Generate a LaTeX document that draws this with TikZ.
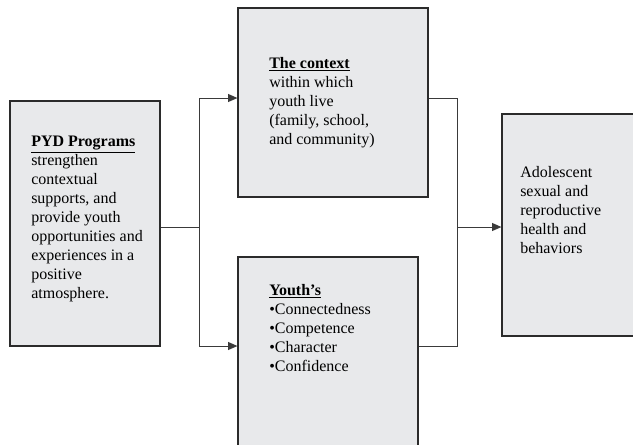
\documentclass[tikz,border=0pt]{standalone}
\usepackage{fontspec}
\setmainfont{Liberation Serif}
\usetikzlibrary{arrows.meta,positioning,calc}

\definecolor{boxfill}{HTML}{E8E9EB}
\definecolor{boxline}{HTML}{2B2B2B}
\definecolor{wire}{HTML}{3A3A3A}

\begin{document}
\begin{tikzpicture}[x=0.75pt,y=-0.75pt,
  every node/.style={font=\fontsize{12}{14.25}\selectfont},
  blk/.style={draw=boxline,fill=boxfill,line width=0.9pt,inner sep=0pt},
  txt/.style={anchor=north west,align=left,inner sep=0pt},
  ar/.style={-{Triangle[length=7pt,width=6pt]},draw=wire,line width=0.7pt},
  ln/.style={draw=wire,line width=0.7pt}]
\useasboundingbox (0,0) rectangle (633,444);
\clip (0,0) rectangle (633,444);
% boxes
\node[blk,minimum width=150*0.75pt,minimum height=245*0.75pt] (pyd) at (85,223.5) {};
\node[blk,minimum width=190*0.75pt,minimum height=189*0.75pt] (ctx) at (333,102.5) {};
\node[blk,minimum width=180*0.75pt,minimum height=213*0.75pt] (yth) at (328,363.5) {};
\node[blk,minimum width=160*0.75pt,minimum height=222*0.75pt] (out) at (582,225) {};
% texts
\node[txt] (pydtxt) at (31,136) {\underline{\textbf{PYD Programs}}\\strengthen\\contextual\\supports, and\\provide youth\\opportunities and\\experiences in a\\positive\\atmosphere.};
\node[txt] (ctxtxt) at (269,57) {\underline{\textbf{The context}}\\within which\\youth live\\(family, school,\\and community)};
\node[txt] (ythtxt) at (269,284) {\underline{\textbf{Youth’s}}\\•Connectedness\\•Competence\\•Character\\•Confidence};
\node[txt] (outtxt) at (520,166) {Adolescent\\sexual and\\reproductive\\health and\\behaviors};
% connectors
\coordinate (split) at (199,227);
\coordinate (merge) at (457,227);
\draw[ln] (pyd.east |- split) -- (split);
\draw[ar] (split) |- (ctx.west |- 0,98);
\draw[ar] (split) |- (yth.west |- 0,346);
\draw[ln] (ctx.east |- 0,98) -| (merge);
\draw[ln] (yth.east |- 0,346) -| (merge);
\draw[ar] (merge) -- (merge -| out.west);
\end{tikzpicture}
\end{document}
